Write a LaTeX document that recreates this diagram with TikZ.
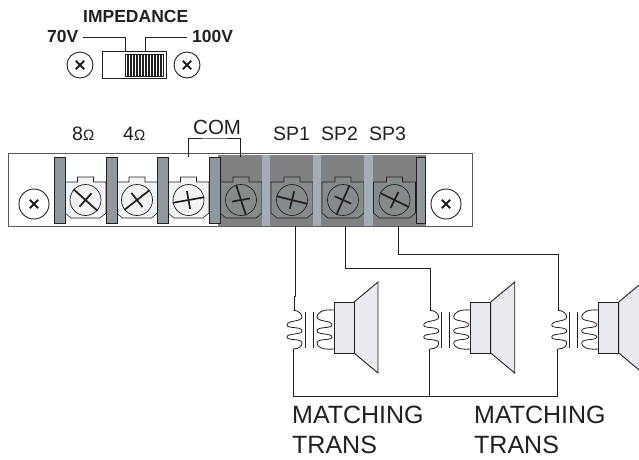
\documentclass[tikz,border=0pt]{standalone}
\usepackage{fontspec}
\setmainfont{Liberation Sans}
\definecolor{barA}{HTML}{8F989E}
\definecolor{barB}{HTML}{A3ADB5}
\definecolor{darkzone}{HTML}{7F8182}
\definecolor{darkplate}{HTML}{858A8D}
\definecolor{ltplate}{HTML}{F1F3F5}
\definecolor{spk}{HTML}{E8EAEE}
\definecolor{ink}{HTML}{231F20}
\tikzset{
  wire/.style={draw=ink,line width=0.9pt},
  lab/.style={inner sep=0pt,text=ink,anchor=base west},
  barrier/.style={draw=ink,line width=0.7pt},
  plate/.style={draw=ink,line width=0.6pt},
  fixscrew/.style={circle,draw=ink,line width=0.9pt,fill=white,minimum size=#1,inner sep=0pt},
}
% plate with screw: #1 x centre, #2 half width, #3 fill, #4 long line angle, #5 short line angle
\newcommand{\termplate}[5]{%
  \begin{scope}[shift={(#1,0)}]
    \path[plate,fill=#3] (-#2,182) -- (-8,182) -- (-8,177) -- (8,177) -- (8,182) -- (#2,182)
      -- (#2,213) -- (#2-6,218) -- (-#2+6,218) -- (-#2,213) -- cycle;
    \draw[line width=0.7pt,draw=ink] (0,200) circle (15.5);
    \draw[line width=1.7pt,draw=ink,rotate around={#4:(0,200)}] (-16,200) -- (16,200);
    \draw[line width=1.7pt,draw=ink,rotate around={#5:(0,200)}] (-9,200) -- (9,200);
  \end{scope}}
\newcommand{\xscrew}[4]{%
  \node[fixscrew=#3] (#4) at (#1,#2) {};
  \draw[line width=1.8pt,draw=ink] ($(#4)+(-4.2,-4.2)$) -- ($(#4)+(4.2,4.2)$);
  \draw[line width=1.8pt,draw=ink] ($(#4)+(-4.2,4.2)$) -- ($(#4)+(4.2,-4.2)$);}
\newcommand{\speakerunit}[1]{%
  \begin{scope}[shift={(#1,0)}]
    \path[wire,fill=spk] (354,302) -- (378,282) -- (378,373) -- (354,353) -- cycle;
    \path[wire,fill=spk] (334,302) rectangle (354,353);
    \draw[wire,line width=0.8pt] (293.5,310) .. controls (299,311) and (302,314) .. (302,317)
      .. controls (302,322) and (287,320) .. (287,325) .. controls (287,329) and (302,326) .. (302,331)
      .. controls (302,335) and (287,333) .. (287,337) .. controls (287,341) and (302,338) .. (302,343)
      .. controls (302,346) and (299,349) .. (293,349);
    \draw[wire,line width=0.8pt] (334,310) .. controls (322,309) and (317,313) .. (317,317)
      .. controls (317,322) and (332,320) .. (332,325) .. controls (332,329) and (317,326) .. (317,331)
      .. controls (317,335) and (332,333) .. (332,337) .. controls (332,341) and (317,338) .. (317,343)
      .. controls (317,347) and (322,350) .. (334,349);
    \draw[wire,line width=0.8pt] (305,312) -- (305,348) (313,312) -- (313,348);
  \end{scope}}
\usetikzlibrary{calc}
\begin{document}
\begin{tikzpicture}[x=1pt,y=-1pt]
\useasboundingbox (0,0) rectangle (639,459);
\clip (0,0) rectangle (639,459);
% impedance switch
\node[lab,font=\bfseries\fontsize{17.5}{18}\selectfont] (imp) at (83,22) {IMPEDANCE};
\node[lab,font=\bfseries\fontsize{17.5}{18}\selectfont] (v70) at (47,42) {70V};
\node[lab,font=\bfseries\fontsize{17.5}{18}\selectfont] (v100) at (192,42) {100V};
\node[draw=ink,line width=1pt,minimum width=64pt,minimum height=27pt,inner sep=0pt] (sw) at (134,64.5) {};
\node[draw=ink,line width=1pt,minimum width=38pt,minimum height=22pt,inner sep=0pt] (knob) at (144,65) {};
\foreach \x in {128,131,...,161} \draw[ink,line width=1.1pt] (\x,54) -- (\x,76);
\coordinate (s70) at (125,52);
\coordinate (s100) at (145,52);
\coordinate (l70) at (83,37);
\coordinate (l100) at (187,37);
\draw[wire] (l70) -| (s70);
\draw[wire] (l100) -| (s100);
\xscrew{80}{65}{26pt}{sa}
\xscrew{187}{65}{26pt}{sb}
% strip
\path[draw=ink!75,line width=1pt,fill=white] (8,153) rectangle (472,226);
\fill[darkzone] (218,155) rectangle (426,226);
\draw[ink!70,line width=1pt] (218,226) -- (426,226);
\termplate{85.5}{20.5}{ltplate}{-42}{48}
\termplate{137}{20.5}{ltplate}{38}{-52}
\termplate{188.5}{20.5}{ltplate}{10}{-80}
\termplate{241}{21}{darkplate}{-72}{10}
\termplate{292}{21}{darkplate}{-14}{76}
\termplate{343}{21}{darkplate}{66}{-24}
\termplate{394.5}{21}{darkplate}{-26}{64}
\foreach \a/\b in {54/65,106/117,157/168,209/220} \path[barrier,fill=barA] (\a,157) rectangle (\b,223);
\foreach \a/\b in {262/270,313/321,364/373} \path[barrier,draw=none,fill=barB] (\a,155) rectangle (\b,226);
\path[barrier,fill=barA] (416,157) rectangle (425,223);
\xscrew{34}{204}{30pt}{sl}
\xscrew{446}{204}{30pt}{sr}
% labels
\node[lab,font=\fontsize{19.5}{20}\selectfont] (r8) at (72,140) {8\fontsize{15}{15}\selectfont Ω};
\node[lab,font=\fontsize{19.5}{20}\selectfont] (r4) at (123,140) {4\fontsize{15}{15}\selectfont Ω};
\node[lab,font=\fontsize{20.5}{21}\selectfont] (com) at (193,134) {COM};
\node[lab,font=\fontsize{19.5}{20}\selectfont] (sp1l) at (273,140) {SP1};
\node[lab,font=\fontsize{19.5}{20}\selectfont] (sp2l) at (321,140) {SP2};
\node[lab,font=\fontsize{19.5}{20}\selectfont] (sp3l) at (369,140) {SP3};
\coordinate (cl) at (188.5,157);
\coordinate (cr) at (240,157);
\draw[wire] (cl) |- (214,138) -| (cr);
% speakers
\speakerunit{0}
\speakerunit{136.7}
\speakerunit{264.7}
% wiring
\coordinate (t1) at (295,226);
\coordinate (t2) at (345.5,226);
\coordinate (t3) at (398,226);
\coordinate (c1) at (294,311);
\coordinate (c2) at (430,311);
\coordinate (c3) at (558,311);
\coordinate (b1) at (293,349);
\coordinate (b2) at (429.5,349);
\coordinate (b3) at (557.5,349);
\coordinate (bl1) at (293,396);
\coordinate (bl2) at (429.5,396);
\coordinate (bl3) at (557.5,396);
\draw[wire] (t1) -- (295,296) -- (294,296) -- (c1);
\draw[wire] (t2) |- (430,268) -- (c2);
\draw[wire] (t3) |- (558,254) -- (c3);
\draw[wire] (b1) -- (bl1) -- (bl3) -- (b3);
\draw[wire] (b2) -- (bl2);
\node[lab,font=\fontsize{25}{26}\selectfont] (m1) at (292,423) {MATCHING};
\node[lab,font=\fontsize{25}{26}\selectfont] (tr1) at (292,453) {TRANS};
\node[lab,font=\fontsize{25}{26}\selectfont] (m2) at (474,423) {MATCHING};
\node[lab,font=\fontsize{25}{26}\selectfont] (tr2) at (474,453) {TRANS};
\end{tikzpicture}
\end{document}
